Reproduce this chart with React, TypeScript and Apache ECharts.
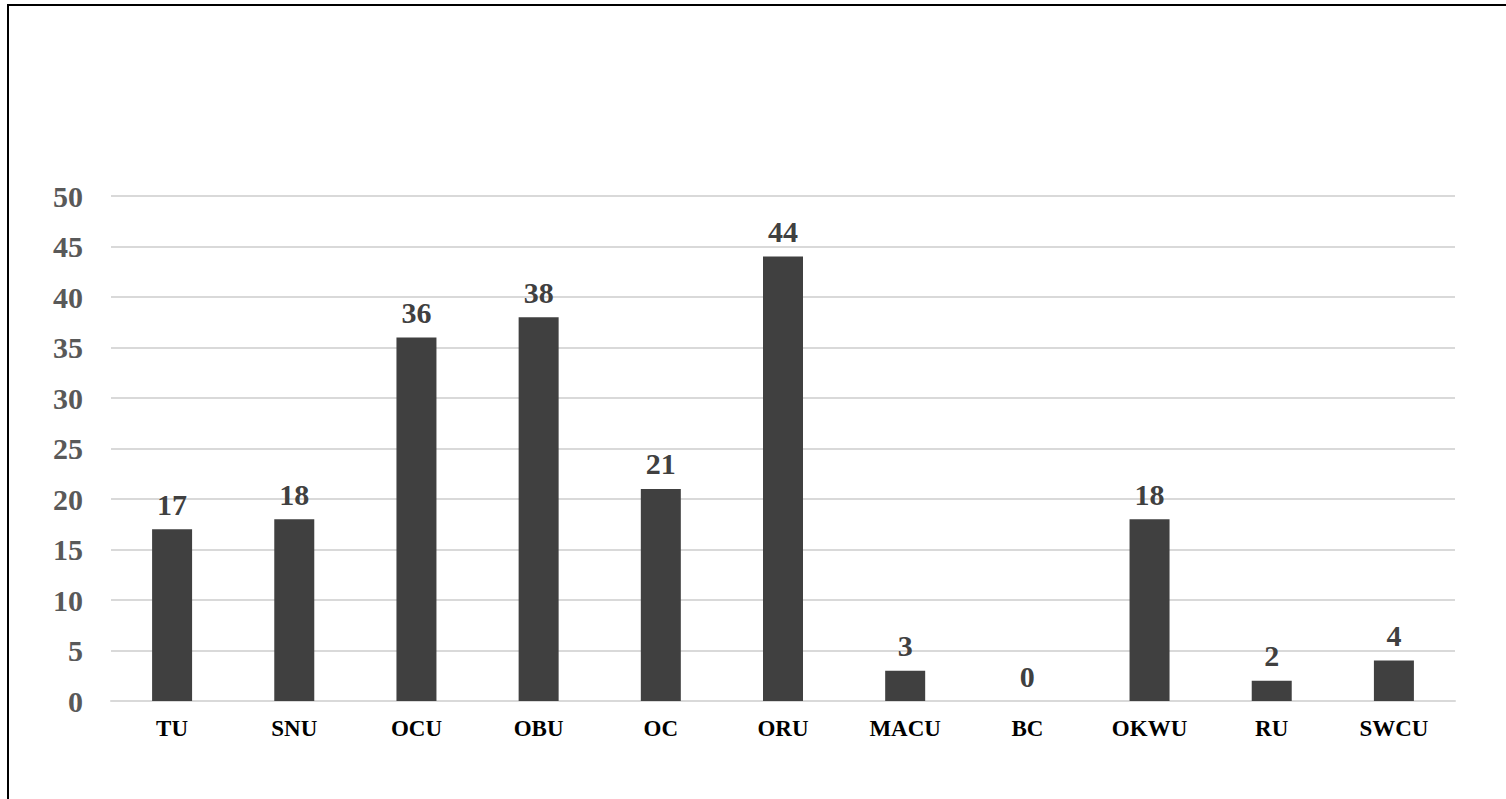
import React, { useEffect, useRef } from "react";
import * as echarts from "echarts";

const categories = ["TU", "SNU", "OCU", "OBU", "OC", "ORU", "MACU", "BC", "OKWU", "RU", "SWCU"];
const values = [17, 18, 36, 38, 21, 44, 3, 0, 18, 2, 4];
const yMin = 0;
const yMax = 50;
const yInterval = 5;

const serif = '"Liberation Serif", "Times New Roman", serif';

export default function App() {
  const ref = useRef<HTMLDivElement>(null);
  useEffect(() => {
    if (!ref.current) return;
    const chart = echarts.init(ref.current, undefined, { renderer: "svg" });
    chart.setOption({
      animation: false,
      backgroundColor: "#ffffff",
      grid: { left: 111, right: 51, top: 196, bottom: 98, containLabel: false },
      graphic: [
        {
          type: "rect",
          shape: { x: 8, y: 5, width: 1700, height: 1000 },
          style: { fill: "none", stroke: "#000000", lineWidth: 2 },
          silent: true,
        },
      ],
      xAxis: {
        type: "category",
        data: categories,
        axisLine: { show: true, lineStyle: { color: "#d9d9d9", width: 2 } },
        axisTick: { show: false },
        axisLabel: {
          color: "#000000",
          fontFamily: serif,
          fontWeight: "bold",
          fontSize: 23,
          margin: 16,
        },
      },
      yAxis: {
        type: "value",
        min: yMin,
        max: yMax,
        interval: yInterval,
        axisLine: { show: false },
        axisTick: { show: false },
        splitLine: { lineStyle: { color: "#d9d9d9", width: 2 } },
        axisLabel: {
          color: "#595959",
          fontFamily: serif,
          fontWeight: "bold",
          fontSize: 30,
          margin: 28,
        },
      },
      series: [
        {
          type: "bar",
          data: values,
          barWidth: 40,
          itemStyle: { color: "#404040" },
          label: {
            show: true,
            position: "top",
            distance: 10,
            color: "#404040",
            fontFamily: serif,
            fontWeight: "bold",
            fontSize: 30,
          },
        },
      ],
    });
    return () => chart.dispose();
  }, []);
  return (
    <div
      ref={ref}
      style={{ position: "fixed", left: 0, top: 0, width: 1506, height: 799, background: "#fff" }}
    />
  );
}
